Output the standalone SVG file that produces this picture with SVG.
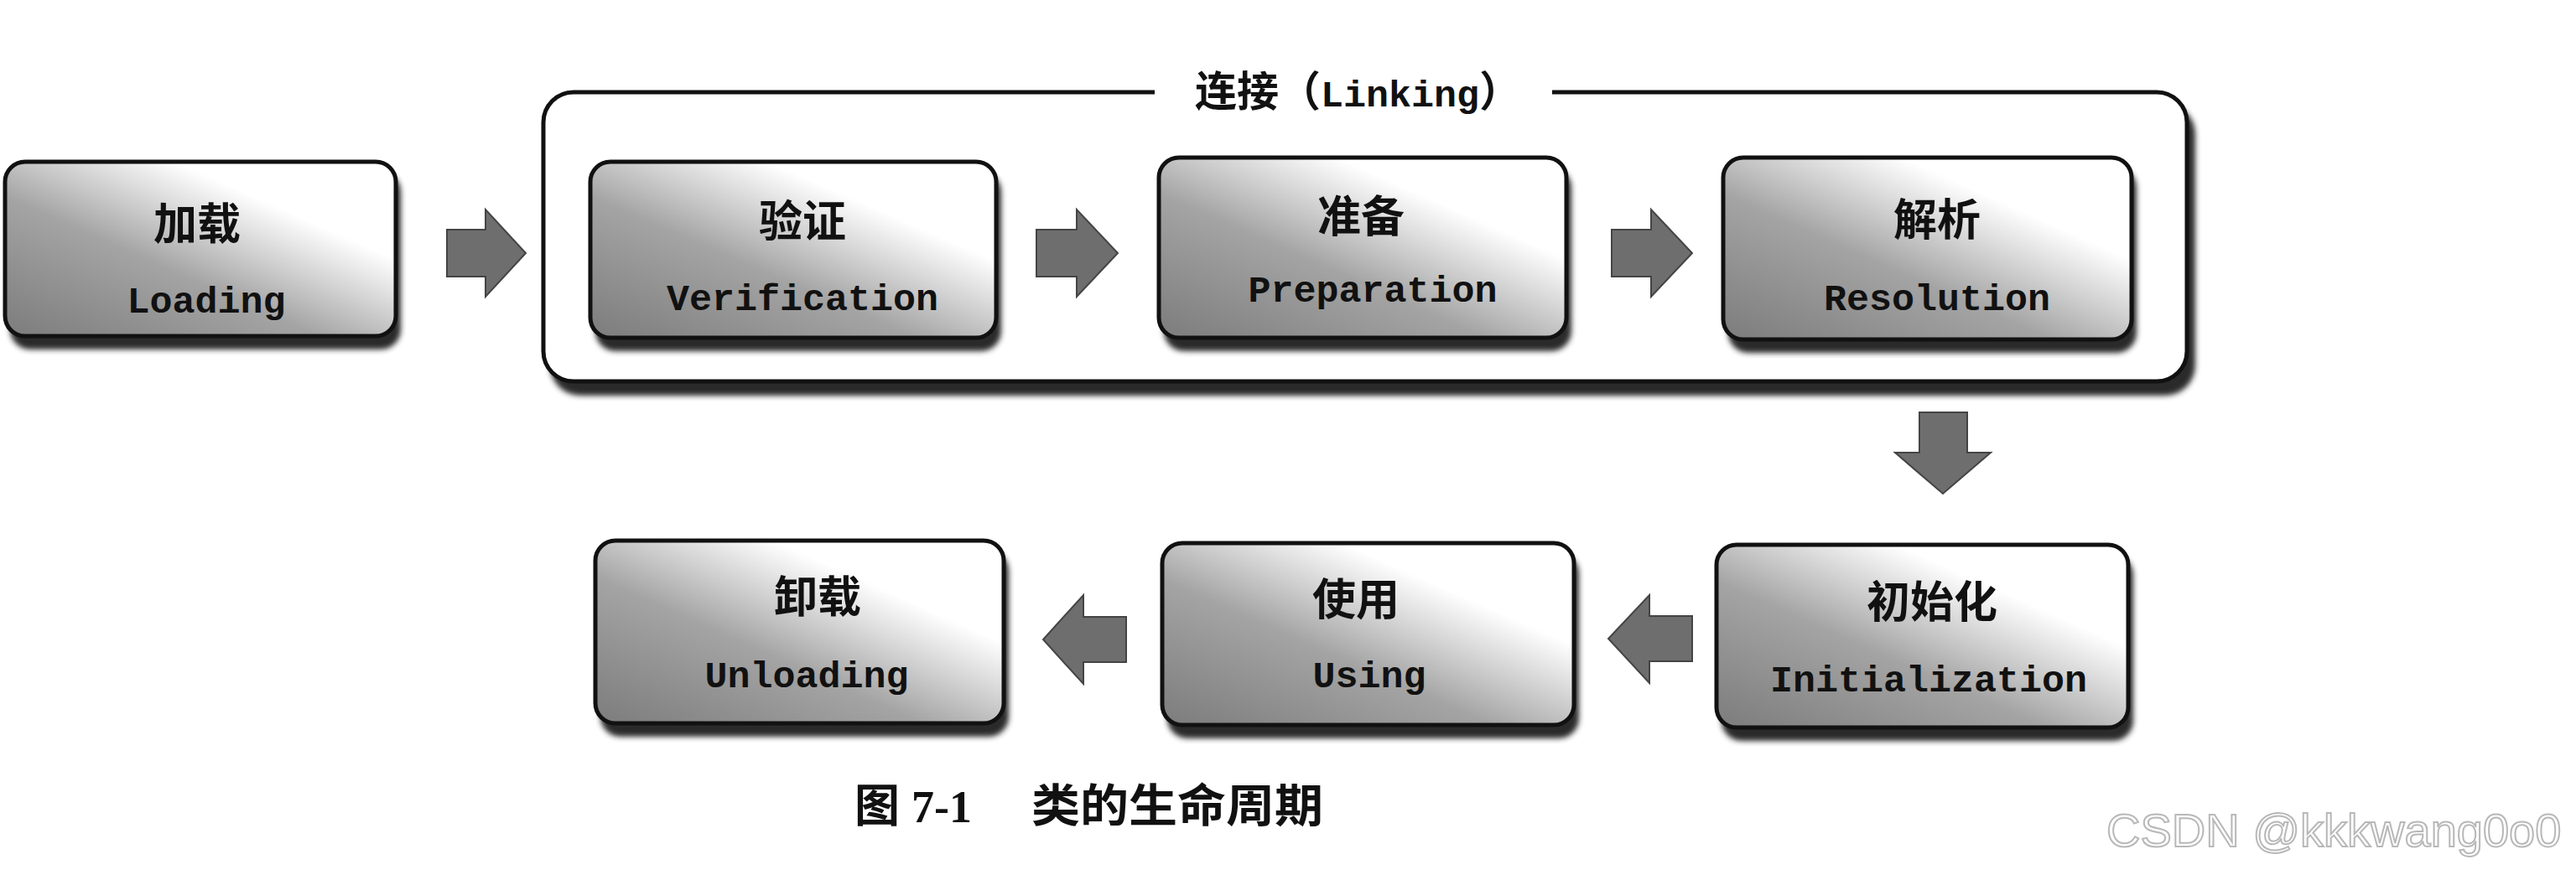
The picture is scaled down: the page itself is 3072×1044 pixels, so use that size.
<svg xmlns="http://www.w3.org/2000/svg" width="3072" height="1044" viewBox="0 0 3072 1044">
<defs>
<linearGradient id="boxfill" x1="0" y1="1" x2="1" y2="0">
<stop offset="0" stop-color="#7c7c7c"/>
<stop offset="0.4" stop-color="#a4a4a4"/>
<stop offset="0.72" stop-color="#ffffff"/>
<stop offset="1" stop-color="#ffffff"/>
</linearGradient>
<filter id="blur" x="-5%" y="-5%" width="110%" height="120%"><feGaussianBlur stdDeviation="3"/></filter>
<style>
.shadow{fill:#2a2a2a;filter:url(#blur)}
.box{fill:url(#boxfill);stroke:#111;stroke-width:5}
.cn{font-family:"Noto Sans CJK SC",sans-serif;font-weight:700;font-size:52px;fill:#111;text-anchor:middle}
.en{font-family:"Liberation Mono",monospace;font-weight:700;font-size:45px;fill:#111;text-anchor:middle}
.arrow{fill:#6e6e6e;stroke:#444;stroke-width:2}
.frame{fill:none;stroke:#111;stroke-width:5}
</style>
</defs>
<rect width="3072" height="1044" fill="#ffffff"/>

<g id="linking">
<rect class="shadow" x="656" y="124" width="1962" height="348" rx="36"/>
<rect x="648" y="110" width="1960" height="345" rx="36" fill="#ffffff"/>
<path class="frame" d="M1377,110 H684 A36,36 0 0 0 648,146 V419 A36,36 0 0 0 684,455 H2572 A36,36 0 0 0 2608,419 V146 A36,36 0 0 0 2572,110 H1851"/>
<text x="1425" y="127" style="font-family:'Noto Sans CJK SC',sans-serif;font-weight:700;font-size:50px;fill:#111">连接（<tspan style="font-family:'Liberation Mono',monospace;font-size:45px">Linking</tspan>）</text>
</g>

<g id="loading">
<rect class="shadow" x="12" y="205" width="466" height="212" rx="24"/>
<rect class="box" x="6" y="193" width="466" height="208" rx="24"/>
<text class="cn" x="235" y="286">加载</text>
<text class="en" x="246" y="373">Loading</text>
</g>

<g id="verification">
<rect class="shadow" x="710" y="205" width="484" height="214" rx="24"/>
<rect class="box" x="704" y="193" width="484" height="210" rx="24"/>
<text class="cn" x="957" y="283">验证</text>
<text class="en" x="957" y="370">Verification</text>
</g>

<g id="preparation">
<rect class="shadow" x="1388" y="200" width="486" height="219" rx="24"/>
<rect class="box" x="1382" y="188" width="486" height="215" rx="24"/>
<text class="cn" x="1623" y="277">准备</text>
<text class="en" x="1637" y="360">Preparation</text>
</g>

<g id="resolution">
<rect class="shadow" x="2061" y="200" width="487" height="221" rx="24"/>
<rect class="box" x="2055" y="188" width="487" height="217" rx="24"/>
<text class="cn" x="2310" y="281">解析</text>
<text class="en" x="2310" y="370">Resolution</text>
</g>

<g id="initialization">
<rect class="shadow" x="2053" y="662" width="491" height="222" rx="24"/>
<rect class="box" x="2047" y="650" width="491" height="218" rx="24"/>
<text class="cn" x="2304" y="737">初始化</text>
<text class="en" x="2300" y="825">Initialization</text>
</g>

<g id="using">
<rect class="shadow" x="1392" y="660" width="491" height="221" rx="24"/>
<rect class="box" x="1386" y="648" width="491" height="217" rx="24"/>
<text class="cn" x="1617" y="734">使用</text>
<text class="en" x="1633" y="820">Using</text>
</g>

<g id="unloading">
<rect class="shadow" x="716" y="657" width="487" height="222" rx="24"/>
<rect class="box" x="710" y="645" width="487" height="218" rx="24"/>
<text class="cn" x="975" y="731">卸载</text>
<text class="en" x="962" y="820">Unloading</text>
</g>

<g id="connectors">
<path class="arrow" d="M533,274 H579 V250 L627,302 L579,354 V330 H533 Z"/>
<path class="arrow" d="M1236,274 H1284 V250 L1333,302 L1284,354 V330 H1236 Z"/>
<path class="arrow" d="M1922,274 H1969 V250 L2018,302 L1969,354 V330 H1922 Z"/>
<path class="arrow" d="M2289,492 H2346 V540 H2374 L2317,589 L2260,540 H2289 Z"/>
<path class="arrow" d="M2018,735 H1967 V710 L1918,762 L1967,815 V789 H2018 Z"/>
<path class="arrow" d="M1343,736 H1292 V710 L1244,763 L1292,816 V790 H1343 Z"/>
</g>

<g id="caption">
<text x="1019" y="981" style="font-family:'Noto Sans CJK SC',sans-serif;font-weight:700;font-size:54px;fill:#111">图</text>
<text x="1087" y="981" style="font-family:'Liberation Serif',serif;font-weight:700;font-size:54px;fill:#111">7-1</text>
<text x="1230" y="981" style="font-family:'Noto Sans CJK SC',sans-serif;font-weight:700;font-size:54px;fill:#111" textLength="348" lengthAdjust="spacingAndGlyphs">类的生命周期</text>
</g>

<text x="2512" y="1010" style="font-family:'Liberation Sans',sans-serif;font-size:56px;fill:#ffffff;stroke:#b8b8b8;stroke-width:2">CSDN @kkkwang0o0</text>
</svg>
